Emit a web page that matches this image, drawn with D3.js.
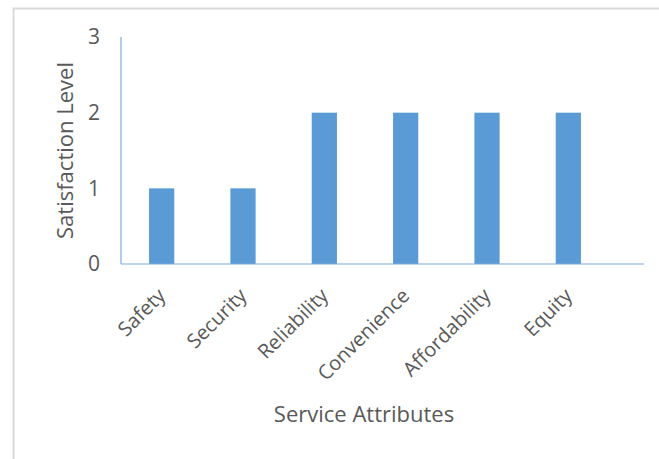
<!DOCTYPE html>
<html>
<head>
<meta charset="utf-8">
<script src="https://cdn.jsdelivr.net/npm/d3@7"></script>
<style>
  body { margin: 0; background: #fff; }
  text { font-family: "Open Sans", "Liberation Sans", sans-serif; fill: #595959; }
</style>
</head>
<body>
<svg id="chart" width="659" height="459"></svg>
<script>
const categories = ["Safety", "Security", "Reliability", "Convenience", "Affordability", "Equity"];
const values = [1, 1, 2, 2, 2, 2];
const yTicks = [0, 1, 2, 3];

const svg = d3.select("#chart");

// outer frame of the chart area
svg.append("rect")
    .attr("x", 13.5).attr("y", 8.5)
    .attr("width", 660).attr("height", 470)
    .attr("fill", "none")
    .attr("stroke", "#d9d9d9")
    .attr("stroke-width", 2);

const plotLeft = 121, plotTop = 37, plotBottom = 264;

const x = d3.scaleBand()
    .domain(categories)
    .range([plotLeft, 609])
    .paddingInner(0.69)
    .paddingOuter(0.345);

const y = d3.scaleLinear()
    .domain([0, 3])
    .range([plotBottom, plotTop]);

// bars
svg.append("g")
    .selectAll("rect")
    .data(categories)
    .join("rect")
    .attr("x", d => x(d))
    .attr("y", (d, i) => y(values[i]))
    .attr("width", x.bandwidth())
    .attr("height", (d, i) => y(0) - y(values[i]))
    .attr("fill", "#5b9bd5");

// axis lines
svg.append("line")
    .attr("x1", plotLeft).attr("x2", plotLeft)
    .attr("y1", y(3)).attr("y2", y(0))
    .attr("stroke", "#7faadc").attr("stroke-width", 1.2);
svg.append("line")
    .attr("x1", plotLeft).attr("x2", 644)
    .attr("y1", y(0)).attr("y2", y(0))
    .attr("stroke", "#7faadc").attr("stroke-width", 1.2);

// y tick labels
svg.append("g")
    .selectAll("text")
    .data(yTicks)
    .join("text")
    .attr("x", 100)
    .attr("y", d => y(d))
    .attr("dy", "0.35em")
    .attr("text-anchor", "end")
    .style("font-size", "21px")
    .text(d => d);

// x category labels, rotated
svg.append("g")
    .selectAll("text")
    .data(categories)
    .join("text")
    .attr("transform", d => `translate(${x(d) + x.bandwidth() / 2},${plotBottom + 28}) rotate(-45)`)
    .attr("text-anchor", "end")
    .attr("dy", "0.35em")
    .style("font-size", "20px")
    .text(d => d);

// axis titles
svg.append("text")
    .attr("transform", `translate(73,${(plotTop + plotBottom) / 2}) rotate(-90)`)
    .attr("text-anchor", "middle")
    .style("font-size", "22px")
    .text("Satisfaction Level");

svg.append("text")
    .attr("x", 364)
    .attr("y", 422)
    .attr("text-anchor", "middle")
    .style("font-size", "22px")
    .text("Service Attributes");
</script>
</body>
</html>
